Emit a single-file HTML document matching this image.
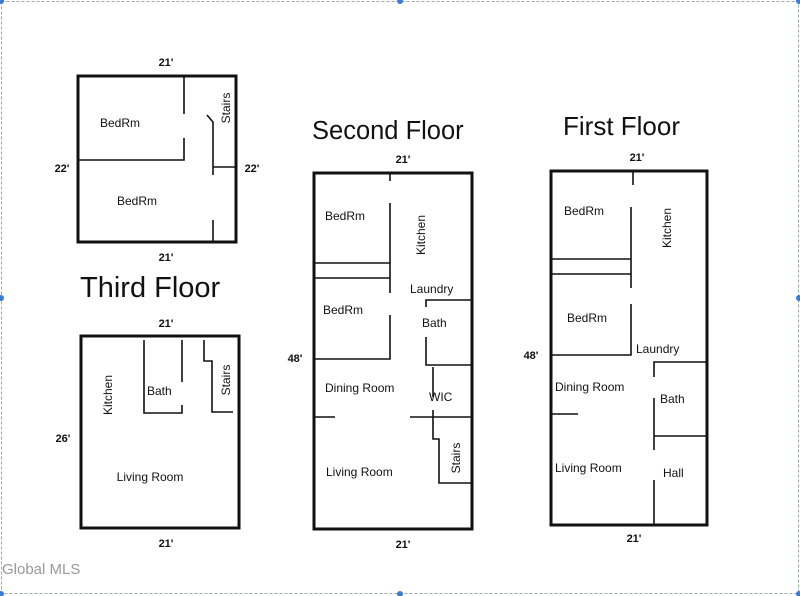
<!DOCTYPE html>
<html><head><meta charset="utf-8"><style>
html,body{margin:0;padding:0;background:#fff;width:800px;height:596px;overflow:hidden}
svg{display:block}
text{font-family:"Liberation Sans",Arial,sans-serif;fill:#111}
.d{font-size:11px;font-weight:bold}
.l{font-size:12px}
</style></head><body>
<svg width="800" height="596" viewBox="0 0 800 596">
<rect x="1.5" y="1.5" width="797" height="592" fill="none" stroke="#9aa" stroke-dasharray="3,2" stroke-width="1"/>
<g fill="#3a7bd5"><circle cx="1" cy="1" r="3"/><circle cx="400" cy="1" r="3"/><circle cx="799" cy="1" r="3"/><circle cx="1" cy="298" r="3"/><circle cx="799" cy="298" r="3"/><circle cx="1" cy="594" r="3"/><circle cx="400" cy="594" r="3"/><circle cx="799" cy="594" r="3"/></g>
<g fill="none" stroke="#111">
<rect x="78" y="76" width="158" height="166" stroke-width="3"/>
<g stroke-width="1.6">
<path d="M184 76V114M184 138V160H78M207 115L213 122V175M213 167H236M213 220V242"/>
</g>
<rect x="81" y="336" width="158" height="192" stroke-width="3"/>
<g stroke-width="1.6">
<path d="M144 340V413H182V405M182 340V382M204 340V361H212V412H233"/>
</g>
<rect x="314" y="173" width="158" height="356" stroke-width="3"/>
<g stroke-width="1.6">
<path d="M390 173V181M390 203V293M390 315V359H314M314 263H390M314 278H390M472 300H426V307M426 337V365H472M433 367V397M314 417H335M410 417H472M433 410V439H439V483H472"/>
</g>
<rect x="551" y="171" width="156" height="354" stroke-width="3"/>
<g stroke-width="1.6">
<path d="M633 171V185M631 207V288M631 304V355H551M551 259H631M551 274H631M707 362H654V377M654 398V450M654 436H707M654 480V525M551 414H578"/>
</g>
</g>
<text class="d" x="166" y="66" text-anchor="middle">21'</text>
<text class="d" x="62" y="172" text-anchor="middle">22'</text>
<text class="d" x="252" y="172" text-anchor="middle">22'</text>
<text class="d" x="166" y="261" text-anchor="middle">21'</text>
<text class="l" x="100" y="127">BedRm</text>
<text class="l" x="117" y="205">BedRm</text>
<text class="l" transform="translate(230,108) rotate(-90)" text-anchor="middle">Stairs</text>
<text x="80" y="297" style="font-size:29px">Third Floor</text>
<text class="d" x="166" y="327" text-anchor="middle">21'</text>
<text class="d" x="63" y="442" text-anchor="middle">26'</text>
<text class="d" x="166" y="547" text-anchor="middle">21'</text>
<text class="l" transform="translate(112,395) rotate(-90)" text-anchor="middle">Kitchen</text>
<text class="l" x="147" y="395">Bath</text>
<text class="l" transform="translate(230,380) rotate(-90)" text-anchor="middle">Stairs</text>
<text class="l" x="150" y="481" text-anchor="middle">Living Room</text>
<text x="312" y="139" style="font-size:25.5px">Second Floor</text>
<text class="d" x="403" y="163" text-anchor="middle">21'</text>
<text class="d" x="295" y="362" text-anchor="middle">48'</text>
<text class="d" x="403" y="548" text-anchor="middle">21'</text>
<text class="l" x="325" y="220">BedRm</text>
<text class="l" transform="translate(425,235) rotate(-90)" text-anchor="middle">Kitchen</text>
<text class="l" x="323" y="314">BedRm</text>
<text class="l" x="410" y="293">Laundry</text>
<text class="l" x="422" y="327">Bath</text>
<text class="l" x="325" y="392">Dining Room</text>
<text class="l" x="429" y="401">WIC</text>
<text class="l" transform="translate(460,458) rotate(-90)" text-anchor="middle">Stairs</text>
<text class="l" x="326" y="476">Living Room</text>
<text x="563" y="135" style="font-size:26px">First Floor</text>
<text class="d" x="637" y="161" text-anchor="middle">21'</text>
<text class="d" x="531" y="359" text-anchor="middle">48'</text>
<text class="d" x="634" y="542" text-anchor="middle">21'</text>
<text class="l" x="564" y="215">BedRm</text>
<text class="l" transform="translate(671,228) rotate(-90)" text-anchor="middle">Kitchen</text>
<text class="l" x="567" y="322">BedRm</text>
<text class="l" x="636" y="353">Laundry</text>
<text class="l" x="555" y="391">Dining Room</text>
<text class="l" x="660" y="403">Bath</text>
<text class="l" x="555" y="472">Living Room</text>
<text class="l" x="663" y="477">Hall</text>
<text x="2" y="574" style="font-size:15px;fill:#999">Global MLS</text>
</svg>
</body></html>
